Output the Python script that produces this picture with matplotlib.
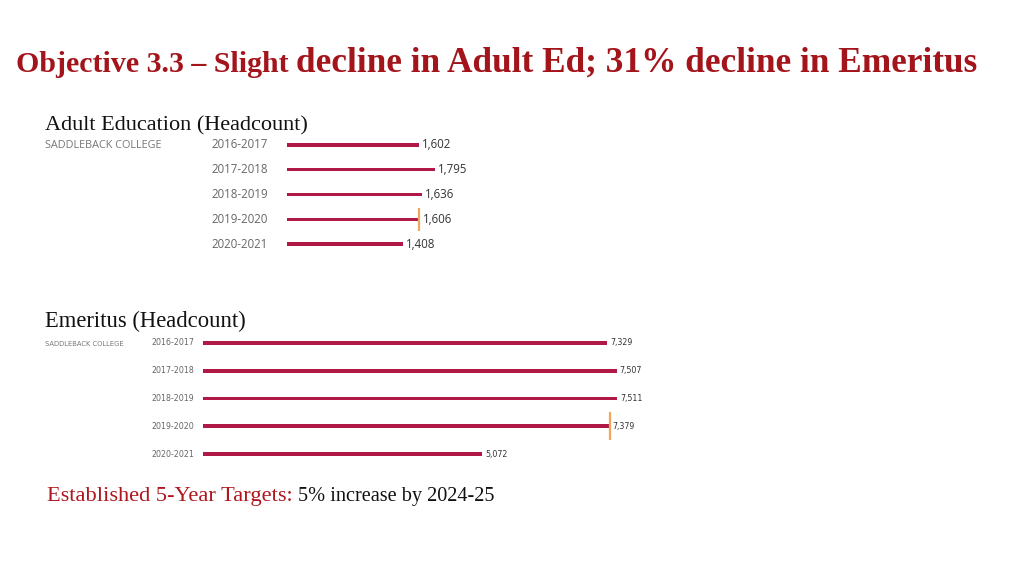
import matplotlib
matplotlib.use("Agg")
from matplotlib import pyplot as plt
from matplotlib import font_manager as fm

years = ["2016-2017", "2017-2018", "2018-2019", "2019-2020", "2020-2021"]
adult = [1602, 1795, 1636, 1606, 1408]
emeritus = [7329, 7507, 7511, 7379, 5072]
college = "SADDLEBACK COLLEGE"
marked = 3  # 2019-2020 row has the orange marker

bar_red = "#B01846"
title_red = "#A3141B"
marker_orange = "#F2A65A"
W, H = 1024, 576


def find_narrow():
    # look for an installed condensed face, else fall back to Open Sans
    tries = [("Noto Sans ExtraCondensed", "normal"), ("Noto Sans Condensed", "normal"),
             ("Noto Sans", "extra-condensed"), ("Noto Sans", "condensed"),
             ("DejaVu Sans", "condensed")]
    for fam, st in tries:
        try:
            path = fm.findfont(fm.FontProperties(family=fam, stretch=st), fallback_to_default=False)
        except Exception:
            continue
        if "ondensed" in path:
            return fm.FontProperties(fname=path), True
    return fm.FontProperties(family="Open Sans"), False


narrow, is_narrow = find_narrow()

fig = plt.figure(figsize=(W / 100, H / 100), dpi=100)
fig.patch.set_facecolor("white")
renderer = fig.canvas.get_renderer()


def px(x, y):
    return x / W, 1 - y / H


def text_run(x, y, parts):
    # parts: list of (text, size, color, family, weight)
    for s, size, color, family, weight in parts:
        t = fig.text(*px(x, y), s, fontsize=size, color=color, family=family,
                     weight=weight, va="baseline", ha="left")
        x += t.get_window_extent(renderer).width


# title
text_run(16, 72, [("Objective 3.3 \u2013 Slight ", 21.5, title_red, "Liberation Serif", "bold"),
                  ("decline in Adult Ed; 31% decline in Emeritus", 25.4, title_red, "Liberation Serif", "bold")])


def panel(values, left, top, bottom, xmax, scale, label_off, fprops, fsize, bh, mh):
    width = xmax * scale
    ax = fig.add_axes([left / W, 1 - bottom / H, width / W, (bottom - top) / H])
    ax.set_xlim(0, xmax)
    ax.set_ylim(len(values) - 0.5, -0.5)
    ax.axis("off")
    ax.barh(range(len(values)), values, height=bh, color=bar_red)
    ax.vlines(values[marked], marked - mh, marked + mh, color=marker_orange, lw=1.6)
    for i, (yr, v) in enumerate(zip(years, values)):
        ax.annotate(yr, (0, i), xytext=(label_off, 0), textcoords="offset pixels",
                    ha="right", va="center", fontproperties=fprops, fontsize=fsize, color="#666666")
        ax.annotate(f"{v:,}", (v, i), xytext=(3, 0), textcoords="offset pixels",
                    ha="left", va="center", fontproperties=fprops, fontsize=fsize, color="#333333")
    return ax


# Adult Education
sans = fm.FontProperties(family="Open Sans")
fig.text(*px(45, 130), "Adult Education (Headcount)", fontsize=16, family="Liberation Serif",
         color="#111111", va="baseline")
fig.text(*px(45, 146), college, fontproperties=sans, fontsize=7.8, color="#777777", va="center")
panel(adult, 287, 132.6, 256.4, 2000, 0.0825, -19, sans, 8.3, 0.13, 0.47)

# Emeritus
fig.text(*px(45, 327), "Emeritus (Headcount)", fontsize=16.3, family="Liberation Serif",
         color="#111111", va="baseline")
emsize = 6.3 if is_narrow else 5.6
fig.text(*px(45, 344), college, fontproperties=narrow, fontsize=5.4 if is_narrow else 5.0,
         color="#777777", va="center")
panel(emeritus, 203, 329.1, 467.9, 8000, 0.0551, -9, narrow, emsize, 0.13, 0.5)

# footer
text_run(47, 501, [("Established 5-Year Targets: ", 16.1, "#B0161E", "Liberation Serif", "normal"),
                   ("5% increase by 2024-25", 14.6, "#111111", "Liberation Serif", "normal")])

fig.savefig("out.png", dpi=100, facecolor="white")
